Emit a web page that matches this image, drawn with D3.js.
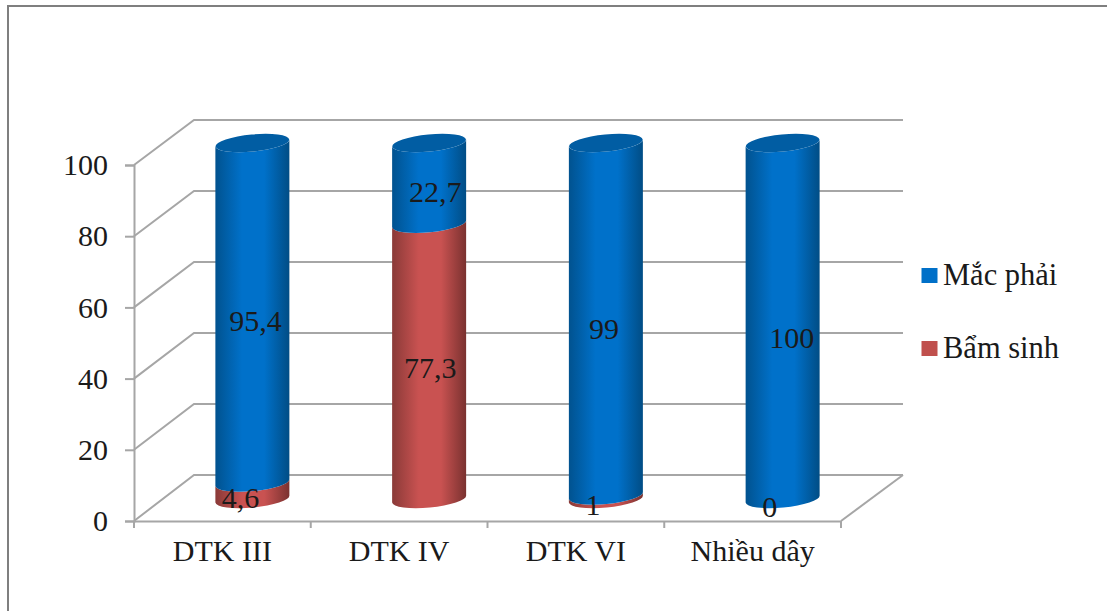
<!DOCTYPE html>
<html>
<head>
<meta charset="utf-8">
<script src="https://cdn.jsdelivr.net/npm/d3@7/dist/d3.min.js"></script>
<style>
html,body{margin:0;padding:0;background:#fff}
svg{display:block}
text{font-family:"Liberation Serif","Times New Roman",serif;fill:#1a1a1a}
</style>
</head>
<body>
<svg id="chart" width="1107" height="611"></svg>
<script>
// Stacked percentage share per group
const categories = ["DTK III", "DTK IV", "DTK VI", "Nhiều dây"];
const bamSinh = [4.6, 77.3, 1, 0];
const macPhai = [95.4, 22.7, 99, 100];
const bamSinhLabels = ["4,6", "77,3", "1", "0"];
const macPhaiLabels = ["95,4", "22,7", "99", "100"];
const yTicks = [0, 20, 40, 60, 80, 100];
const seriesNames = ["Mắc phải", "Bẩm sinh"];

// Hand-placed data label offsets, in pixels, from each segment's centre
const bamSinhNudge = [[-12, 7], [1, 7], [-13, 8], [-13, 8]];
const macPhaiNudge = [[3, 8], [6, 9], [-2, 10], [9, 17]];

const svg = d3.select("#chart");
const defs = svg.append("defs");

// Oblique projection: floor depth moves the back wall right and up
const depthX = 60, depthY = 45;
const plotLeft = 134, plotRight = 841, plotBottom = 521, plotTop = 165;
const x = d3.scaleBand().domain(categories).range([plotLeft, plotRight]);
const yFront = d3.scaleLinear().domain([0, 100]).range([plotBottom, plotTop]);
const yBack = d3.scaleLinear().domain([0, 100]).range([plotBottom - depthY - 1, plotTop - depthY]);
const yBar = d3.scaleLinear().domain([0, 100]).range([plotBottom - 22, plotTop - 22]);

// Frame round the slide (top and left edges only)
svg.append("path").attr("d", "M8,611V6H1107").attr("fill", "none")
  .attr("stroke", "#7f7f7f").attr("stroke-width", 2);

const wallColor = "#a6a6a6";
const backRight = 903;
const walls = svg.append("g").attr("fill", "none").attr("stroke", wallColor).attr("stroke-width", 2);
yTicks.forEach(t => {
  walls.append("path").attr("d",
    `M${plotLeft},${yFront(t)}L${plotLeft + depthX},${yBack(t)}H${backRight}`);
});
walls.append("path").attr("d",
  `M${plotRight},${yFront(0)}L${backRight},${yBack(0)}`);

// Front axes
const yAxis = d3.axisLeft(yFront).tickValues(yTicks).tickSize(9).tickPadding(17);
const gy = svg.append("g").attr("transform", `translate(${plotLeft},0)`).call(yAxis);
const xAxis = d3.axisBottom(x).tickSize(0).tickPadding(19);
const gx = svg.append("g").attr("transform", `translate(0,${plotBottom})`).call(xAxis);
[gy, gx].forEach(g => {
  g.selectAll("path,line").attr("stroke", wallColor).attr("stroke-width", 2);
  g.selectAll("text").attr("font-size", 30).attr("fill", "#262626")
    .style("font-family", '"Liberation Serif",serif');
});
gx.selectAll("text").attr("dy", "0.71em");
const edges = categories.map(c => x(c)).concat(plotRight);
gx.selectAll("line.edge").data(edges).enter().append("line").attr("class", "edge")
  .attr("x1", d => d).attr("x2", d => d).attr("y1", 0).attr("y2", 7)
  .attr("stroke", wallColor).attr("stroke-width", 2);

// Horizontal shading that makes the bars read as cylinders
function shade(id, edge, mid, far) {
  const g = defs.append("linearGradient").attr("id", id);
  g.append("stop").attr("offset", "0").attr("stop-color", edge);
  g.append("stop").attr("offset", "0.36").attr("stop-color", mid);
  g.append("stop").attr("offset", "0.66").attr("stop-color", mid);
  g.append("stop").attr("offset", "1").attr("stop-color", far);
}
shade("blueBody", "#01528f", "#0071ca", "#014d85");
shade("redBody", "#8a3a38", "#c95251", "#7a3230");

const rx = 37, ry = 8.5, tilt = 3.5, tiltDeg = -5.4;
// Side of a cylinder slice: concave top edge, convex bottom edge
function segment(cx, y0, y1) {
  return `M${cx - rx},${y1 + tilt}A${rx},${ry} ${tiltDeg} 0 0 ${cx + rx},${y1 - tilt}` +
    `V${y0 - tilt}A${rx},${ry} ${tiltDeg} 0 1 ${cx - rx},${y0 + tilt}Z`;
}

const bars = svg.append("g");
categories.forEach((c, i) => {
  const cx = x(c) + x.bandwidth() / 2 + depthX / 2;
  const yb = yBar(0), ym = yBar(bamSinh[i]), yt = yBar(bamSinh[i] + macPhai[i]);
  if (bamSinh[i] > 0) {
    bars.append("path").attr("d", segment(cx, yb, ym)).attr("fill", "url(#redBody)");
  }
  bars.append("path").attr("d", segment(cx, ym, yt)).attr("fill", "url(#blueBody)");
  bars.append("ellipse")
    .attr("transform", `translate(${cx},${yt}) rotate(${tiltDeg})`)
    .attr("rx", rx).attr("ry", ry).attr("fill", "#015da3");
});

// Data labels
const labels = svg.append("g").attr("font-size", 30).attr("text-anchor", "middle");
categories.forEach((c, i) => {
  const cx = x(c) + x.bandwidth() / 2 + depthX / 2;
  labels.append("text")
    .attr("x", cx + bamSinhNudge[i][0])
    .attr("y", yBar(bamSinh[i] / 2) + bamSinhNudge[i][1])
    .attr("dy", "0.33em").text(bamSinhLabels[i]);
  labels.append("text")
    .attr("x", cx + macPhaiNudge[i][0])
    .attr("y", yBar(bamSinh[i] + macPhai[i] / 2) + macPhaiNudge[i][1])
    .attr("dy", "0.33em").text(macPhaiLabels[i]);
});

// Legend
const legendColors = ["#0070c8", "#c0504d"];
const legendY = d3.scalePoint().domain(seriesNames).range([275, 348]);
const legend = svg.append("g");
seriesNames.forEach((s, i) => {
  legend.append("rect").attr("x", 921.5).attr("y", legendY(s) - 7)
    .attr("width", 16).attr("height", 15).attr("fill", legendColors[i]);
  legend.append("text").attr("x", 943).attr("y", legendY(s)).attr("dy", "0.33em")
    .attr("font-size", 30.5).attr("fill", "#262626").text(s);
});
</script>
</body>
</html>
